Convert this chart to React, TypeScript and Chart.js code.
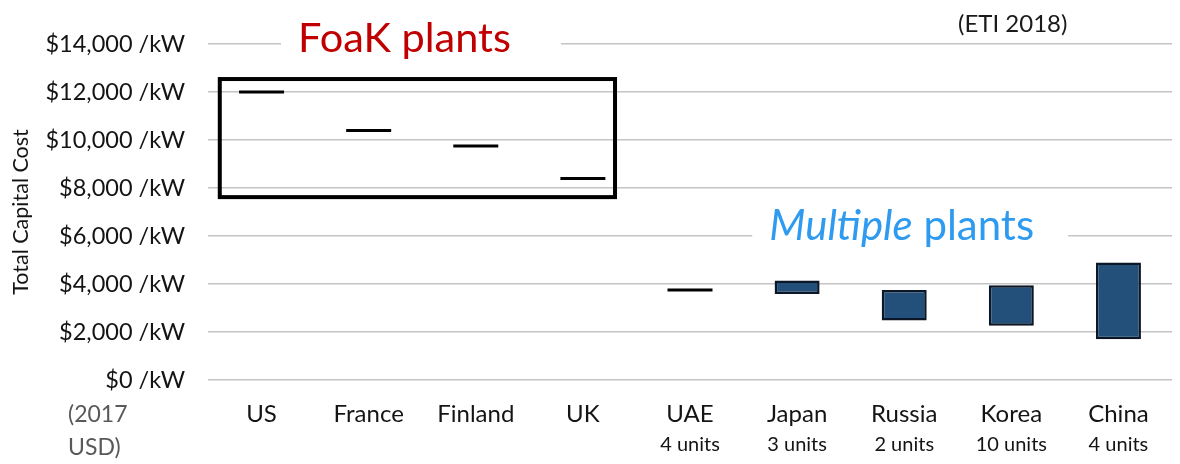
import React, { useEffect, useRef } from "react";
import { Chart, registerables } from "chart.js";

Chart.register(...registerables);

// Countries and build notes along the bottom axis
const COUNTRIES = ["US", "France", "Finland", "UK", "UAE", "Japan", "Russia", "Korea", "China"];
const UNIT_NOTES = ["", "", "", "", "4 units", "3 units", "2 units", "10 units", "4 units"];

// Single-estimate costs ($/kW, 2017 USD), drawn as short horizontal markers
const POINT_COSTS: (number | null)[] = [12000, 10400, 9750, 8400, 3750, null, null, null, null];

// Cost ranges ($/kW, 2017 USD), drawn as floating bars [low, high]
const RANGE_LOW: (number | null)[] = [null, null, null, null, null, 3580, 2480, 2260, 1700];
const RANGE_HIGH: (number | null)[] = [null, null, null, null, null, 4150, 3750, 3950, 4900];

// Y axis ticks
const Y_MIN = 0;
const Y_MAX = 14000;
const Y_STEP = 2000;

// Frame around the first-of-a-kind group (category index span, $/kW span)
const FOAK_BOX_INDEX = [-0.39, 3.3];
const FOAK_BOX_COST = [7620, 12540];

const FONT = 'Lato, "Open Sans", "DejaVu Sans", sans-serif';
const BAR_FILL = "#22507b";
const BAR_EDGE = "#0b1726";
const GRID = "#c4c4c4";

const annotations = {
  id: "groupAnnotations",
  afterDraw(chart: any) {
    const { ctx, scales, chartArea } = chart;
    const x = scales.x;
    const y = scales.y;
    ctx.save();

    // first-of-a-kind frame
    const bx0 = x.getPixelForValue(FOAK_BOX_INDEX[0]);
    const bx1 = x.getPixelForValue(FOAK_BOX_INDEX[1]);
    const by0 = y.getPixelForValue(FOAK_BOX_COST[1]);
    const by1 = y.getPixelForValue(FOAK_BOX_COST[0]);
    ctx.strokeStyle = "#000";
    ctx.lineWidth = 4;
    ctx.strokeRect(bx0, by0, bx1 - bx0, by1 - by0);

    // "FoaK plants" heading sitting on the top gridline
    const g14 = y.getPixelForValue(14000);
    const foakLeft = x.getPixelForValue(0.34);
    ctx.font = `41.5px ${FONT}`;
    ctx.textBaseline = "alphabetic";
    ctx.textAlign = "left";
    const foakText = "FoaK plants";
    const foakW = ctx.measureText(foakText).width;
    ctx.fillStyle = "#fff";
    ctx.fillRect(foakLeft - 17, g14 - 4, foakW + 17 + 50, 8);
    ctx.fillStyle = "#c00000";
    ctx.fillText(foakText, foakLeft, g14 + 8);

    // "Multiple plants" heading sitting on the $6,000 gridline
    const g6 = y.getPixelForValue(6000);
    const multLeft = x.getPixelForValue(4.74);
    ctx.font = `italic 42px ${FONT}`;
    const w1 = ctx.measureText("Multiple").width;
    ctx.font = `42px ${FONT}`;
    const w2 = ctx.measureText(" plants").width;
    ctx.fillStyle = "#fff";
    ctx.fillRect(multLeft - 17, g6 - 4, w1 + w2 + 17 + 34, 8);
    ctx.fillStyle = "#2e9bf0";
    ctx.font = `italic 42px ${FONT}`;
    ctx.fillText("Multiple", multLeft, g6 + 4);
    ctx.font = `42px ${FONT}`;
    ctx.fillText(" plants", multLeft + w1, g6 + 4);

    // source note
    ctx.fillStyle = "#1a1a1a";
    ctx.font = `24px ${FONT}`;
    ctx.fillText("(ETI 2018)", chartArea.right - 214, 32);

    // currency note under the value axis
    ctx.fillStyle = "#595959";
    ctx.font = `23px ${FONT}`;
    ctx.textBaseline = "middle";
    ctx.fillText("(2017", 68, 415);
    ctx.fillText("USD)", 68, 448);

    ctx.restore();
  },
};

export default function App() {
  const canvasRef = useRef<HTMLCanvasElement | null>(null);

  useEffect(() => {
    document.body.style.margin = "0";
    const canvas = canvasRef.current;
    if (!canvas) return;

    const ranges = RANGE_LOW.map((lo, i) =>
      lo === null || RANGE_HIGH[i] === null ? null : [lo, RANGE_HIGH[i] as number]
    );

    const chart = new Chart(canvas, {
      type: "bar",
      data: {
        labels: COUNTRIES,
        datasets: [
          {
            type: "line",
            label: "Estimate",
            data: POINT_COSTS,
            showLine: false,
            pointStyle: "line",
            pointRadius: 22.5,
            pointHoverRadius: 22.5,
            pointBorderWidth: 3,
            pointBorderColor: "#000",
            pointBackgroundColor: "#000",
            borderColor: "#000",
          } as any,
          {
            type: "bar",
            label: "Range",
            data: ranges as any,
            backgroundColor: BAR_FILL,
            borderColor: BAR_EDGE,
            borderWidth: 2.5,
            borderSkipped: false,
            categoryPercentage: 1,
            barPercentage: 0.42,
          },
        ],
      },
      options: {
        responsive: true,
        maintainAspectRatio: false,
        animation: false,
        layout: { autoPadding: false, padding: { top: 44, right: 8, left: 0, bottom: 0 } },
        plugins: {
          legend: { display: false },
          tooltip: { enabled: false },
        },
        scales: {
          y: {
            min: Y_MIN,
            max: Y_MAX,
            ticks: {
              stepSize: Y_STEP,
              padding: 23,
              color: "#141414",
              font: { family: FONT, size: 23.5 },
              callback: (v: any) => `$${Number(v).toLocaleString("en-US")} /kW`,
            },
            grid: { color: GRID, lineWidth: 1.5, drawTicks: false },
            border: { display: false },
            title: {
              display: true,
              text: "Total Capital Cost",
              color: "#141414",
              font: { family: FONT, size: 21.5 },
              padding: { top: 8, bottom: 0 },
            },
            afterFit: (s: any) => {
              s.width = 208;
            },
          },
          x: {
            offset: true,
            grid: { display: false, drawTicks: false },
            border: { display: false },
            ticks: {
              padding: 20,
              color: "#141414",
              font: { family: FONT, size: 24 },
              maxRotation: 0,
              autoSkip: false,
            },
            afterFit: (s: any) => {
              s.height = 46;
            },
          },
          x2: {
            type: "category",
            position: "bottom",
            labels: UNIT_NOTES,
            offset: true,
            grid: { display: false, drawTicks: false },
            border: { display: false },
            ticks: {
              padding: 7,
              color: "#141414",
              font: { family: FONT, size: 20 },
              maxRotation: 0,
              autoSkip: false,
            },
            afterFit: (s: any) => {
              s.height = 38;
            },
          },
        },
      },
      plugins: [annotations],
    });

    return () => chart.destroy();
  }, []);

  return (
    <div style={{ position: "fixed", left: 0, top: 0, width: 1180, height: 464, background: "#fff" }}>
      <canvas ref={canvasRef} />
    </div>
  );
}
